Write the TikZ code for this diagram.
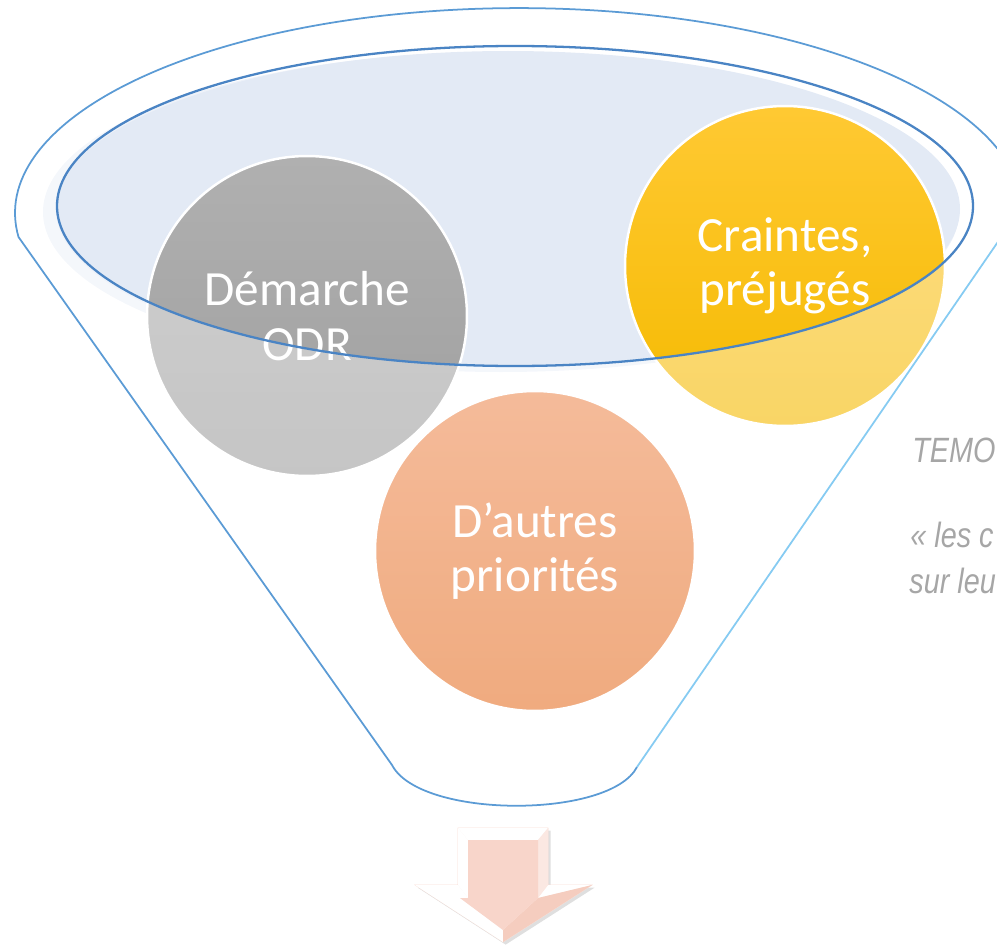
\documentclass[tikz,border=0pt]{standalone}
\usepackage{fontspec}
\setmainfont{Carlito}
\newfontfamily\temoinfont[FakeStretch=0.82]{Liberation Sans}
\usepackage{tikz}
\usetikzlibrary{shapes.geometric, positioning, shadows}
\usepackage{xcolor}
\definecolor{rimblue}{HTML}{5B9BD5}
\definecolor{lipblue}{HTML}{4A84C4}
\definecolor{sideblue}{HTML}{86CBF2}
\definecolor{topfill}{HTML}{E3EAF5}
\definecolor{topglow}{HTML}{EEF2F9}
\definecolor{quotegray}{HTML}{A6A6A6}
\definecolor{arrowpink}{HTML}{F8D5CA}
\definecolor{arrowedge}{HTML}{F5CDBF}
\definecolor{odrtop}{HTML}{B0B0B0}
\definecolor{odrbot}{HTML}{9F9F9F}
\definecolor{fearstop}{HTML}{FFC933}
\definecolor{fearsbot}{HTML}{F5BA00}
\definecolor{othertop}{HTML}{EE8E57}
\definecolor{otherbot}{HTML}{E6732A}
\tikzstyle{bubble} = [circle, minimum size=6.4cm, inner sep=0pt, align=center, text=white, font=\fontsize{28}{31}\selectfont, draw=white, line width=1.4pt]
\tikzstyle{temoin} = [anchor=base west, inner sep=0pt, text=quotegray, font=\temoinfont\itshape\fontsize{20}{25}\selectfont]
\tikzstyle{rim} = [draw=rimblue, line width=1pt]

\begin{document}
\begin{tikzpicture}[x=0.02cm, y=-0.02cm]
\useasboundingbox (0,0) rectangle (997,946);
\clip (0,0) rectangle (997,946);

% top of the funnel
\fill[topglow] (501,212) ellipse [x radius=458, y radius=160];
\fill[topfill] (508,209) ellipse [x radius=452, y radius=158];

% the three bubbles
\node (odr) [bubble, top color=odrtop, bottom color=odrbot] at (307,316) {Démarche\\ODR};
\node (craintes) [bubble, top color=fearstop, bottom color=fearsbot] at (785,266) {Craintes,\\préjugés};
\node (autres) [bubble, top color=othertop, bottom color=otherbot] at (535,551) {D’autres\\priorités};

% glass body in front
\fill[white, fill opacity=0.4, even odd rule] (18.5,237) arc[start angle=173.3, end angle=358, x radius=504, y radius=205] -- (637,767) .. controls (610,819) and (420,819) .. (392,765) -- cycle (515,206) ellipse [x radius=458, y radius=160];

% outlines
\draw[rim] (637,767) .. controls (610,819) and (420,819) .. (392,765) -- (18.5,237) arc[start angle=173.3, end angle=358, x radius=504, y radius=205];
\draw[sideblue, line width=1pt] (1022.7,205.8) -- (637,767);
\draw[lipblue, line width=1.3pt] (515,206) ellipse [x radius=458, y radius=160];

% arrow below
\path[fill=arrowpink!35, draw=arrowpink!80, line width=0.3pt, drop shadow={shadow xshift=1.5pt, shadow yshift=-1.5pt, opacity=0.25}] (458,828) -- (548,828) -- (548,885) -- (592,885) -- (503,942) -- (415,885) -- (458,885) -- cycle;
\fill[white] (458,828) -- (548,828) -- (538,840) -- (468,840) -- cycle;
\fill[white] (458,828) -- (468,840) -- (468,898) -- (458,885) -- cycle;
\fill[white] (415,885) -- (458,885) -- (468,898) -- (460,898) -- (503,930) -- (503,942) -- cycle;
\fill[white] (548,885) -- (592,885) -- (538,898) -- cycle;
\fill[arrowpink!55] (548,828) -- (548,885) -- (538,898) -- (538,840) -- cycle;
\fill[arrowedge] (592,885) -- (503,942) -- (503,930) -- (538,898) -- cycle;
\fill[arrowpink] (468,840) -- (538,840) -- (538,898) -- (503,930) -- (460,898) -- (468,898) -- cycle;

% testimony, cut at the edge
\node (temo) [temoin] at (912,462) {TEMO};
\node (lesc) [temoin] at (910,547) {« les c};
\node (surleu) [temoin] at (909,593) {sur leu};

\end{tikzpicture}
\end{document}
